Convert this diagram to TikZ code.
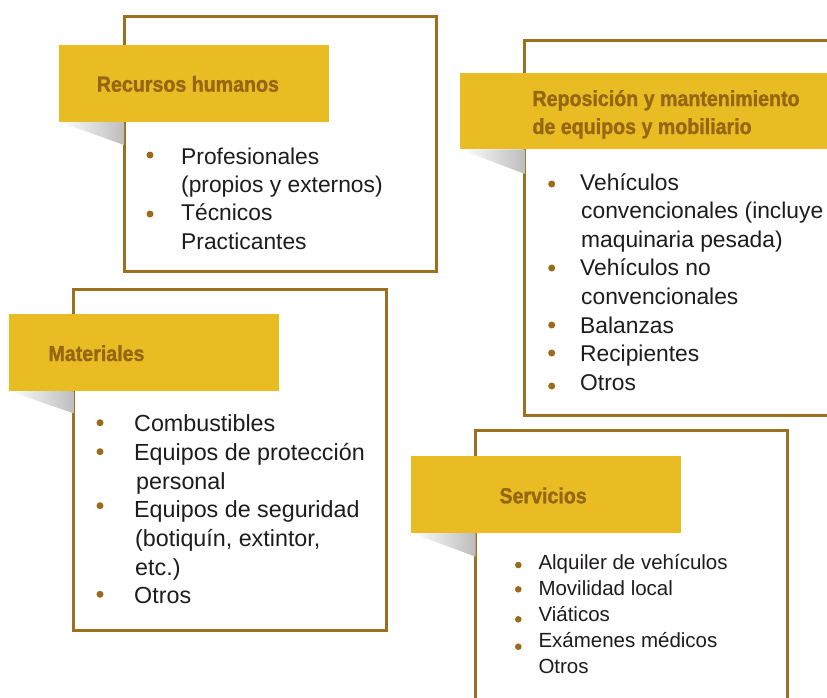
\documentclass[tikz,border=0pt]{standalone}
\usepackage{fontspec}
\setmainfont{Liberation Sans}
\newfontfamily\headfont{Liberation Sans Bold}[FakeStretch=0.9,FakeBold=1.2]
\definecolor{frameC}{RGB}{155,112,30}
\definecolor{labelY}{RGB}{233,188,36}
\definecolor{headC}{RGB}{150,102,18}
\definecolor{dotC}{RGB}{155,106,26}
\definecolor{txtC}{RGB}{30,28,28}
\tikzset{
  framebox/.style={draw=frameC, line width=3pt, fill=white},
  labelbox/.style={fill=labelY, draw=none},
  headtxt/.style={anchor=base west, inner sep=0pt, text=headC, font=\headfont\fontsize{21.8}{26}\selectfont},
  bodyA/.style={anchor=base west, inner sep=0pt, text=txtC, font=\fontsize{22.8}{28}\selectfont},
  bodyB/.style={anchor=base west, inner sep=0pt, text=txtC, font=\fontsize{23.3}{28}\selectfont},
  bodyC/.style={anchor=base west, inner sep=0pt, text=txtC, font=\fontsize{20.5}{26}\selectfont},
  dot/.style={circle, fill=dotC, inner sep=0pt, minimum size=7pt},
  shadowtri/.style={left color=white, right color=black!26, draw=none}
}
\begin{document}
\begin{tikzpicture}[x=1pt,y=-1pt]
\clip (0,0) rectangle (827,697);
\fill[white] (0,0) rectangle (827,697);

% ---------- Box 1: Recursos humanos ----------
\draw[framebox] (124.2,16.5) rectangle (436.2,271.8);
\shade[shadowtri] (59,121.7) -- (124,121.7) -- (124,145) -- cycle;
\fill[labelbox] (59,45) rectangle (329,121.7);
\node[headtxt] (rhh) at (96.7,91.7) {Recursos humanos};
\node[dot] (rhd1) at (150,155) {};
\node[dot] (rhd2) at (150,214) {};
\node[bodyA] (rh1) at (181,164) {Profesionales};
\node[bodyA] (rh2) at (181,192.5) {(propios y externos)};
\node[bodyA] (rh3) at (181,220.8) {Técnicos};
\node[bodyA] (rh4) at (181,249) {Practicantes};

% ---------- Box 2: Reposición ----------
\draw[framebox] (524.8,40.5) rectangle (845,415.2);
\shade[shadowtri] (460,149.3) -- (525,149.3) -- (525,174) -- cycle;
\fill[labelbox] (460,73.3) rectangle (840,149.3);
\node[headtxt] (reh1) at (532.3,106) {Reposición y mantenimiento};
\node[headtxt] (reh2) at (532.3,134) {de equipos y mobiliario};
\node[dot] (red1) at (551.7,184) {};
\node[dot] (red2) at (551.7,268) {};
\node[dot] (red3) at (551.7,325) {};
\node[dot] (red4) at (551.7,353) {};
\node[dot] (red5) at (551.7,386) {};
\node[bodyA] (re1) at (580,190) {Vehículos};
\node[bodyA] (re2) at (581,218.6) {convencionales (incluye};
\node[bodyA] (re3) at (581,247.2) {maquinaria pesada)};
\node[bodyA] (re4) at (580,275.8) {Vehículos no};
\node[bodyA] (re5) at (581,304.4) {convencionales};
\node[bodyA] (re6) at (580,333) {Balanzas};
\node[bodyA] (re7) at (580,361.6) {Recipientes};
\node[bodyA] (re8) at (580,390.2) {Otros};

% ---------- Box 3: Materiales ----------
\draw[framebox] (73.5,289.8) rectangle (386.2,630.8);
\shade[shadowtri] (9,391) -- (73.5,391) -- (73.5,413.3) -- cycle;
\fill[labelbox] (9,314.3) rectangle (278.7,391);
\node[headtxt] (mah) at (48.3,361) {Materiales};
\node[dot] (mad1) at (100,422.7) {};
\node[dot] (mad2) at (100,451.7) {};
\node[dot] (mad3) at (100,505.7) {};
\node[dot] (mad4) at (100,594.3) {};
\node[bodyB] (ma1) at (134,431.7) {Combustibles};
\node[bodyB] (ma2) at (134,460.4) {Equipos de protección};
\node[bodyB] (ma3) at (136,489.1) {personal};
\node[bodyB] (ma4) at (134,517.8) {Equipos de seguridad};
\node[bodyB] (ma5) at (135,546.5) {(botiquín, extintor,};
\node[bodyB] (ma6) at (135,575.2) {etc.)};
\node[bodyB] (ma7) at (134,603.9) {Otros};

% ---------- Box 4: Servicios ----------
\draw[framebox] (475.5,430.5) rectangle (787.5,720);
\shade[shadowtri] (411,532.7) -- (475.5,532.7) -- (475.5,556.7) -- cycle;
\fill[labelbox] (411,456) rectangle (681,532.7);
\node[headtxt] (seh) at (499.3,503.3) {Servicios};
\node[dot, minimum size=6.6pt] (sed1) at (518.3,565) {};
\node[dot, minimum size=6.6pt] (sed2) at (518.3,589.3) {};
\node[dot, minimum size=6.6pt] (sed3) at (518.3,619.3) {};
\node[dot, minimum size=6.6pt] (sed4) at (518.3,646.7) {};
\node[bodyC] (se1) at (538.3,569.3) {Alquiler de vehículos};
\node[bodyC] (se2) at (538.3,595.3) {Movilidad local};
\node[bodyC] (se3) at (538.3,621.3) {Viáticos};
\node[bodyC] (se4) at (538.3,647.3) {Exámenes médicos};
\node[bodyC] (se5) at (538.3,673.3) {Otros};
\end{tikzpicture}
\end{document}
